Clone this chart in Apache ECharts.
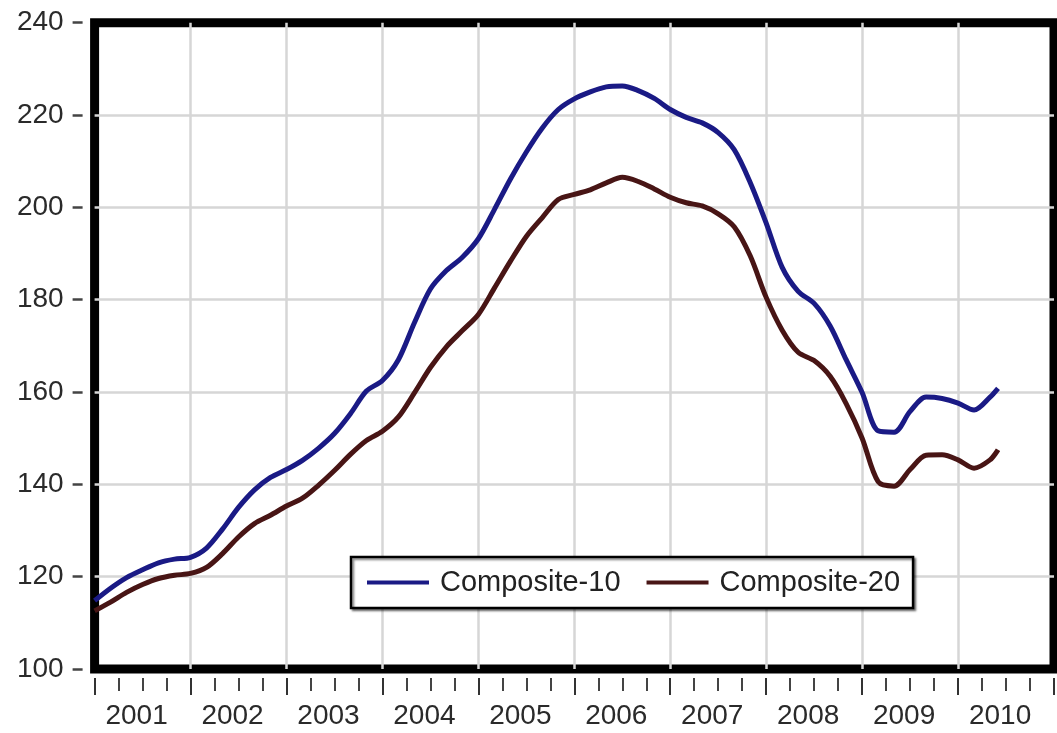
<!DOCTYPE html>
<html>
<head>
<meta charset="utf-8">
<title>Composite-10 / Composite-20</title>
<script src="https://cdn.jsdelivr.net/npm/echarts@6/dist/echarts.min.js"></script>
<style>
  html, body { margin: 0; padding: 0; background: #fff; }
  #chart { width: 1057px; height: 733px; }
</style>
</head>
<body>
<div id="chart"></div>
<script>
// months (every two months, plus the last one)
const months = [
  '2001-01', '2001-03', '2001-05', '2001-07', '2001-09', '2001-11',
  '2002-01', '2002-03', '2002-05', '2002-07', '2002-09', '2002-11',
  '2003-01', '2003-03', '2003-05', '2003-07', '2003-09', '2003-11',
  '2004-01', '2004-03', '2004-05', '2004-07', '2004-09', '2004-11',
  '2005-01', '2005-03', '2005-05', '2005-07', '2005-09', '2005-11',
  '2006-01', '2006-03', '2006-05', '2006-07', '2006-09', '2006-11',
  '2007-01', '2007-03', '2007-05', '2007-07', '2007-09', '2007-11',
  '2008-01', '2008-03', '2008-05', '2008-07', '2008-09', '2008-11',
  '2009-01', '2009-03', '2009-05', '2009-07', '2009-09', '2009-11',
  '2010-01', '2010-03', '2010-05', '2010-06'
]

const composite10 = [
  114.8, 117.5, 119.8, 121.5, 123.0, 123.8,
  124.2, 126.2, 130.3, 135.0, 138.8, 141.5,
  143.2, 145.2, 147.8, 151.0, 155.3, 160.2,
  162.5, 167.0, 175.0, 182.3, 186.3, 189.2,
  193.2, 199.5, 206.1, 212.0, 217.2, 221.2,
  223.5, 225.0, 226.1, 226.3, 225.3, 223.6,
  221.2, 219.5, 218.3, 216.2, 212.5, 205.4,
  196.6, 187.0, 181.8, 179.2, 174.3, 167.0,
  159.9, 151.6, 151.3, 155.8, 158.9, 158.6,
  157.6, 156.1, 158.9, 160.8
]

const composite20 = [
  112.6, 114.5, 116.6, 118.3, 119.6, 120.3,
  120.7, 122.0, 125.0, 128.6, 131.5, 133.3,
  135.3, 137.0, 139.8, 143.0, 146.5, 149.5,
  151.5, 154.6, 159.8, 165.3, 169.8, 173.3,
  176.8, 182.5, 188.3, 193.7, 197.8, 201.7,
  202.8, 203.8, 205.3, 206.5, 205.6, 204.0,
  202.2, 201.0, 200.3, 198.6, 195.8, 189.5,
  180.5, 173.4, 168.6, 166.8, 163.4, 157.5,
  150.0, 140.6, 139.6, 143.2, 146.3, 146.4,
  145.3, 143.5, 145.3, 147.5
]

const yearLabels = ['2001', '2002', '2003', '2004', '2005', '2006', '2007', '2008', '2009', '2010']

const seriesNames = ['Composite-10', 'Composite-20']

function toYear(m) {
  const parts = m.split('-')
  return Number(parts[0]) + (Number(parts[1]) - 1) / 12
}

function pairs(values) {
  return months.map((m, i) => [toYear(m), values[i]])
}

const font = '"Liberation Sans", Arial, sans-serif'

const chart = echarts.init(document.getElementById('chart'))

chart.setOption({
  animation: false,
  backgroundColor: '#fff',
  color: ['#1a1a85', '#481515'],
  grid: {
    left: 94.6,
    right: -18.6,
    top: 22.7,
    bottom: 64,
    show: true,
    borderColor: '#000',
    borderWidth: 9,
    backgroundColor: 'transparent'
  },
  legend: {
    data: seriesNames,
    left: 351,
    top: 557,
    orient: 'horizontal',
    icon: 'rect',
    itemWidth: 62,
    itemHeight: 4,
    itemGap: 26,
    padding: [11, 13, 11, 16],
    borderColor: '#000',
    borderWidth: 2.5,
    backgroundColor: '#fff',
    shadowColor: 'rgba(0,0,0,0.45)',
    shadowOffsetX: 2,
    shadowOffsetY: 2,
    shadowBlur: 2,
    textStyle: {
      fontFamily: font,
      fontSize: 29,
      color: '#222',
      padding: [0, 0, 0, 6]
    }
  },
  xAxis: {
    type: 'value',
    min: 2001,
    max: 2011,
    interval: 1,
    offset: 9,
    axisLine: { show: false },
    axisTick: {
      show: true,
      length: 17,
      lineStyle: { color: '#333', width: 2 }
    },
    minorTick: {
      show: true,
      splitNumber: 4,
      length: 13,
      lineStyle: { color: '#444', width: 2 }
    },
    splitLine: {
      show: true,
      showMinLine: false,
      showMaxLine: false,
      lineStyle: { color: '#d6d6d6', width: 2.5 }
    },
    axisLabel: {
      margin: 24,
      fontFamily: font,
      fontSize: 28,
      color: '#2a2a2a',
      formatter: function (v) {
        const label = yearLabels.indexOf(String(v))
        return label < 0 ? '' : '{a|' + yearLabels[label] + '}'
      },
      rich: {
        a: {
          fontFamily: font,
          fontSize: 28,
          color: '#2a2a2a',
          padding: [0, 0, 0, 84]
        }
      }
    }
  },
  yAxis: {
    type: 'value',
    min: 100,
    max: 240,
    interval: 20,
    offset: 12,
    axisLine: { show: false },
    axisTick: {
      show: true,
      length: 10,
      lineStyle: { color: '#444', width: 2.5 }
    },
    splitLine: {
      show: true,
      showMinLine: false,
      showMaxLine: false,
      lineStyle: { color: '#d6d6d6', width: 2.5 }
    },
    axisLabel: {
      margin: 19,
      fontFamily: font,
      fontSize: 28,
      color: '#2a2a2a'
    }
  },
  series: [
    {
      name: seriesNames[0],
      type: 'line',
      smooth: 0.3,
      showSymbol: false,
      lineStyle: { width: 5, color: '#1a1a85' },
      data: pairs(composite10)
    },
    {
      name: seriesNames[1],
      type: 'line',
      smooth: 0.3,
      showSymbol: false,
      lineStyle: { width: 5, color: '#481515' },
      data: pairs(composite20)
    }
  ]
})
</script>
</body>
</html>
